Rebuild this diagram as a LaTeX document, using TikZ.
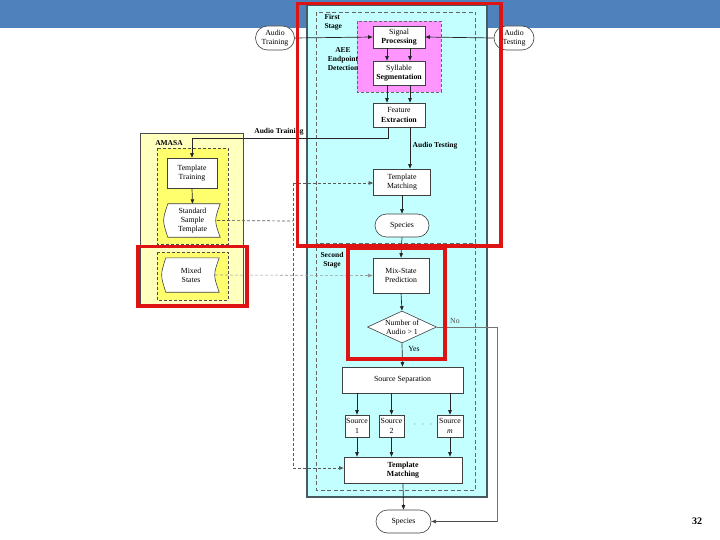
\documentclass[tikz,border=0pt]{standalone}
\usepackage{fontspec}
\setmainfont{Liberation Serif}
\usetikzlibrary{shapes.geometric,shapes.misc,arrows.meta,calc}
\definecolor{hdr}{RGB}{79,129,189}
\definecolor{cyanbg}{RGB}{196,255,255}
\definecolor{magbg}{RGB}{255,150,255}
\definecolor{yelA}{RGB}{255,255,190}
\definecolor{yelB}{RGB}{255,255,110}
\definecolor{frameC}{RGB}{70,90,95}
\definecolor{redf}{RGB}{222,20,20}
\pgfdeclarelayer{bg}
\pgfdeclarelayer{mid}
\pgfsetlayers{bg,mid,main}
\begin{document}
\begin{tikzpicture}[x=1pt,y=-1pt, font=\fontsize{7.8}{9.2}\selectfont,
  box/.style={draw=black!75, fill=white, align=center, inner sep=1pt, line width=0.6pt},
  term/.style={draw=black!75, fill=white, rounded rectangle, align=center, inner sep=1pt, line width=0.6pt},
  store/.style={align=center, inner sep=1pt},
  storeline/.style={draw=black!75, fill=white, line width=0.6pt},
  conn/.style={draw=black!85, line width=0.7pt, -{Triangle[length=4.5pt,width=3.5pt]}},
  plain/.style={draw=black!85, line width=0.7pt},
  dconn/.style={draw=black!65, line width=0.7pt, dash pattern=on 3pt off 2pt},
  lbl/.style={font=\fontsize{7.5}{8.8}\selectfont\bfseries, align=center},
  redbox/.style={draw=redf, line width=3.5pt},
]
\useasboundingbox (0,0) rectangle (720,540);

\begin{pgfonlayer}{bg}
  \fill[hdr] (0,0) rectangle (720,28.5);
  \draw[black!70, fill=yelA, line width=0.6pt] (140,133) rectangle (243,304);
  \draw[black!70, fill=yelB, line width=0.6pt, dash pattern=on 3pt off 2pt] (157,148) rectangle (228,244);
  \draw[black!70, fill=yelB, line width=0.6pt, dash pattern=on 3pt off 2pt] (157,252) rectangle (228,300);
  \draw[frameC, fill=cyanbg, line width=1.2pt] (307,5) rectangle (487,497);
  \draw[black!60, line width=0.7pt, dash pattern=on 4pt off 2.5pt] (316.5,12) rectangle (475.5,243);
  \draw[black!60, line width=0.7pt, dash pattern=on 4pt off 2.5pt] (316.5,247) rectangle (475.5,490);
  \draw[black!60, fill=magbg, line width=0.7pt, dash pattern=on 3pt off 2pt] (357,21) rectangle (441,92);
\end{pgfonlayer}

% labels
\node[lbl, align=left, anchor=west] (fstage) at (321,22) {First\\Stage};
\node[lbl] (aee) at (343,59) {AEE\\Endpoint\\Detection};
\node[lbl] (sstage) at (332,260) {Second\\Stage};
\node[lbl] (amasa) at (169,143) {AMASA};

% first stage
\node[term, minimum width=41, minimum height=24] (atr) at (275,38) {Audio\\Training};
\node[term, minimum width=42, minimum height=24] (ats) at (514,38) {Audio\\Testing};
\node[box, minimum width=52, minimum height=22] (sp) at (399,37) {Signal\\\textbf{Processing}};
\node[box, minimum width=52, minimum height=24] (sy) at (399,73) {Syllable\\\textbf{Segmentation}};
\node[box, minimum width=52, minimum height=24] (fe) at (399,115) {Feature\\\textbf{Extraction}};
\node[box, minimum width=57, minimum height=26] (tm1) at (402,182) {Template\\Matching};
\node[term, minimum width=56, minimum height=23] (sp1) at (402,225.5) {Species};

% AMASA
\node[box, minimum width=50, minimum height=30] (tt) at (192,173) {Template\\Training};
\node[store, minimum width=55, minimum height=33] (sst) at (192.5,220.5) {Standard\\Sample\\Template};
\node[store, minimum width=56, minimum height=34] (mx) at (191,275) {Mixed\\States};
\begin{pgfonlayer}{mid}
  \path[storeline] ([xshift=3]sst.north west) -- (sst.north east) .. controls ([xshift=-6]sst.east) .. (sst.south east) -- ([xshift=3]sst.south west) .. controls ([xshift=-2.5]sst.west) .. ([xshift=3]sst.north west) -- cycle;
  \path[storeline] ([xshift=3]mx.north west) -- (mx.north east) .. controls ([xshift=-6]mx.east) .. (mx.south east) -- ([xshift=3]mx.south west) .. controls ([xshift=-2.5]mx.west) .. ([xshift=3]mx.north west) -- cycle;
\end{pgfonlayer}

% second stage
\node[box, minimum width=56, minimum height=35] (ms) at (401,275.5) {Mix-State\\Prediction};
\node[draw=black!75, fill=white, diamond, aspect=2.1, inner sep=0pt, minimum width=69, minimum height=32, align=center, line width=0.6pt] (dec) at (402,327) {Number of\\Audio > 1};
\node[box, minimum width=121, minimum height=26] (sep) at (402.5,380) {Source Separation};
\node[box, minimum width=24, minimum height=22, inner sep=0.3pt] (s1) at (357,426) {Source\\1};
\node[box, minimum width=25, minimum height=22, inner sep=0.3pt] (s2) at (391.5,426) {Source\\2};
\node[box, minimum width=26, minimum height=22, inner sep=0.3pt] (sm) at (450,426) {Source\\\textit{m}};
\node (dots) at (423,425) {$\cdot\ \ \cdot\ \ \cdot$};
\node[box, minimum width=118, minimum height=26, font=\fontsize{7.8}{9.2}\selectfont\bfseries] (tm2) at (403,470) {Template\\Matching};
\node[term, minimum width=57, minimum height=23] (sp2) at (403.5,521.5) {Species};

% connectors first stage
\draw[conn] (atr.east) -- (sp.west);
\draw[conn] (ats.west) -- (sp.east);
\draw[conn] ([xshift=-12]sp.south) -- ([xshift=-12]sy.north);
\draw[conn] ([xshift=11]sp.south) -- ([xshift=11]sy.north);
\draw[conn] ([xshift=-12]sy.south) -- ([xshift=-12]fe.north);
\draw[conn] ([xshift=11]sy.south) -- ([xshift=11]fe.north);
\coordinate (trk) at (192,138);
\draw[conn] ([xshift=-11]fe.south) |- (trk) -- (tt.north);
\node[lbl] (atrl) at (279,132) {Audio Training};
\draw[conn] ([xshift=11]fe.south) -- ([xshift=11]fe.south |- tm1.north);
\node[lbl] (atsl) at (435,146) {Audio Testing};
\draw[conn] (tm1.south) -- (sp1.north);
\draw[conn] (tt.south) -- (sst.north);

% dashed template bus
\coordinate (busT) at (293,183);
\coordinate (busM) at (293,221);
\coordinate (busB) at (293,468);
\draw[dconn] ([xshift=-3]sst.east) -- (busM);
\draw[dconn] (busT) -- (busB);
\draw[dconn, -{Triangle[length=4.5pt,width=3.5pt]}] (busT) -- (busT -| tm1.west);
\draw[dconn, -{Triangle[length=4.5pt,width=3.5pt]}] (busB) -- (busB -| tm2.west);
\draw[draw=black!40, line width=0.6pt, dash pattern=on 3pt off 2pt, -{Triangle[length=4.5pt,width=3.5pt]}] ([xshift=-4]mx.east) -- (ms.west);

% connectors second stage
\draw[conn] (sp1.south) -- (ms.north);
\draw[conn] (ms.south) -- (dec.north);
\draw[conn] (dec.south) -- (sep.north);
\node (yes) at (414,349) {Yes};
\coordinate (noA) at (497,327);
\coordinate (noB) at (497,521.5);
\draw[draw=black!55, line width=0.7pt] (dec.east) -- (noA) -- (noB);
\draw[conn, draw=black!70] (noB) -- (sp2.east);
\node[text=black!70] (no) at (455,321) {No};
\draw[conn] (sep.south -| s1.north) -- (s1.north);
\draw[conn] (sep.south -| s2.north) -- (s2.north);
\draw[conn] (sep.south -| sm.north) -- (sm.north);
\draw[conn] (s1.south) -- (s1.south |- tm2.north);
\draw[conn] (s2.south) -- (s2.south |- tm2.north);
\draw[conn] (sm.south) -- (sm.south |- tm2.north);
\draw[conn] (tm2.south) -- (sp2.north);

% red highlight frames
\draw[redbox] (297.5,3.5) rectangle (501,246);
\draw[redbox] (138,246.5) rectangle (247,306);
\draw[redbox] (348,248) rectangle (445,359);

\node[font=\fontsize{10}{12}\selectfont\bfseries] (pg) at (697,521) {32};
\end{tikzpicture}
\end{document}
